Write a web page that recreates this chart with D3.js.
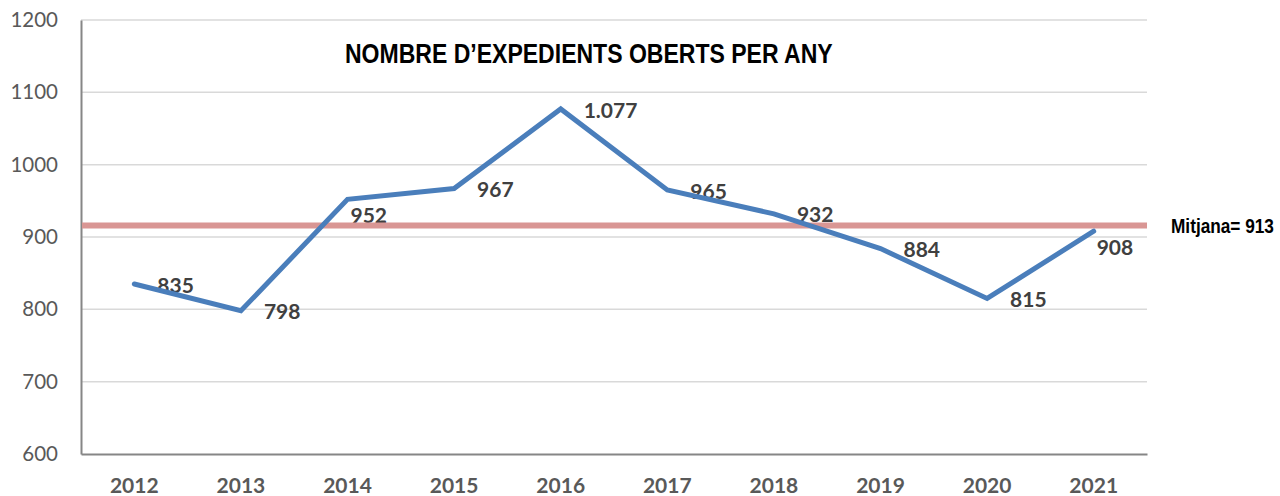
<!DOCTYPE html>
<html>
<head>
<meta charset="utf-8">
<script src="https://cdn.jsdelivr.net/npm/d3@7"></script>
<style>
  body { margin: 0; background: #fff; }
  svg { display: block; }
</style>
</head>
<body>
<svg id="chart" width="1280" height="496"></svg>
<script>
'use strict';

// Data
var years = ["2012", "2013", "2014", "2015", "2016", "2017", "2018", "2019", "2020", "2021"];
var expedients = [835, 798, 952, 967, 1077, 965, 932, 884, 815, 908];
var valueLabels = ["835", "798", "952", "967", "1.077", "965", "932", "884", "815", "908"];
var yTicks = [600, 700, 800, 900, 1000, 1100, 1200];
var mitjana = 913;
var mitjanaLabel = "Mitjana= 913";
var title = "NOMBRE D\u2019EXPEDIENTS OBERTS PER ANY";

// labels that Excel put under the point instead of to the right
var labelsBelow = ["2014", "2021"];

var colors = {
    line: "#4a7ebb",
    mean: "#d99694",
    grid: "#d9d9d9",
    axis: "#868686",
    tick: "#595959",
    label: "#404040",
};

var margin = {left: 81, right: 133, top: 20, bottom: 42};
var width = 1280, height = 496;

var svg = d3.select("#chart");

var x = d3.scaleBand()
          .domain(years)
          .range([margin.left, width - margin.right])
          .padding(0);

var y = d3.scaleLinear()
          .domain([600, 1200])
          .range([height - margin.bottom, margin.top]);

var cx = d => x(d) + x.bandwidth() / 2;

// gridlines
svg.append("g")
   .selectAll("line")
   .data(yTicks.filter(t => t > 600))
   .join("line")
   .attr("x1", margin.left)
   .attr("x2", width - margin.right)
   .attr("y1", d => y(d))
   .attr("y2", d => y(d))
   .attr("stroke", colors.grid)
   .attr("stroke-width", 1.5);

// y axis
var yAxis = svg.append("g")
               .attr("transform", "translate(" + margin.left + ",0)")
               .call(d3.axisLeft(y).tickValues(yTicks).tickFormat(d3.format("d"))
                       .tickSize(0).tickPadding(23));
yAxis.select(".domain").attr("stroke", colors.axis).attr("stroke-width", 2);
yAxis.selectAll("text")
     .attr("fill", colors.tick)
     .style("font-family", "Lato, 'Open Sans', sans-serif")
     .style("font-size", "20.5px");

// x axis
var xAxis = svg.append("g")
               .attr("transform", "translate(0," + y(600) + ")")
               .call(d3.axisBottom(x).tickSize(0).tickPadding(24).tickSizeOuter(0));
xAxis.select(".domain").attr("stroke", colors.axis).attr("stroke-width", 2);
xAxis.selectAll("text")
     .attr("fill", colors.tick)
     .style("font-family", "Lato, 'Open Sans', sans-serif")
     .style("font-weight", "bold")
     .style("font-size", "21px");

// value labels
svg.append("g")
   .selectAll("text")
   .data(years)
   .join("text")
   .attr("x", (d, i) => cx(d) + (labelsBelow.includes(d) ? 3 : 23))
   .attr("y", (d, i) => y(expedients[i]) + (labelsBelow.includes(d) ? 16 : 1))
   .attr("dy", "0.36em")
   .attr("fill", colors.label)
   .style("font-family", "Lato, 'Open Sans', sans-serif")
   .style("font-weight", "bold")
   .style("font-size", "21px")
   .text((d, i) => valueLabels[i]);

// mean line
svg.append("line")
   .attr("x1", margin.left + 1)
   .attr("x2", width - margin.right)
   .attr("y1", y(mitjana) - 2)
   .attr("y2", y(mitjana) - 2)
   .attr("stroke", colors.mean)
   .attr("stroke-width", 6);

// No narrow font is installed, so squeeze Liberation Sans horizontally
// until it takes the width the narrow font had.
function narrowText(left, baseline, size, targetWidth, txt) {
    var g = svg.append("g");
    var t = g.append("text")
             .attr("fill", "#000")
             .style("font-family", "'Liberation Sans', Arial, sans-serif")
             .style("font-weight", "bold")
             .style("font-size", size + "px")
             .text(txt);
    var k = targetWidth / t.node().getComputedTextLength();
    g.attr("transform", "translate(" + left + "," + baseline + ") scale(" + k + ",1)");
    return g;
}

narrowText(1171, y(mitjana) + 5.5, 21, 103, mitjanaLabel);

// the series
var line = d3.line()
             .x((d, i) => cx(years[i]))
             .y(d => y(d));

svg.append("path")
   .datum(expedients)
   .attr("d", line)
   .attr("fill", "none")
   .attr("stroke", colors.line)
   .attr("stroke-width", 5)
   .attr("stroke-linecap", "round")
   .attr("stroke-linejoin", "miter");

// title
narrowText(345, 63, 27, 488, title);
</script>
</body>
</html>
